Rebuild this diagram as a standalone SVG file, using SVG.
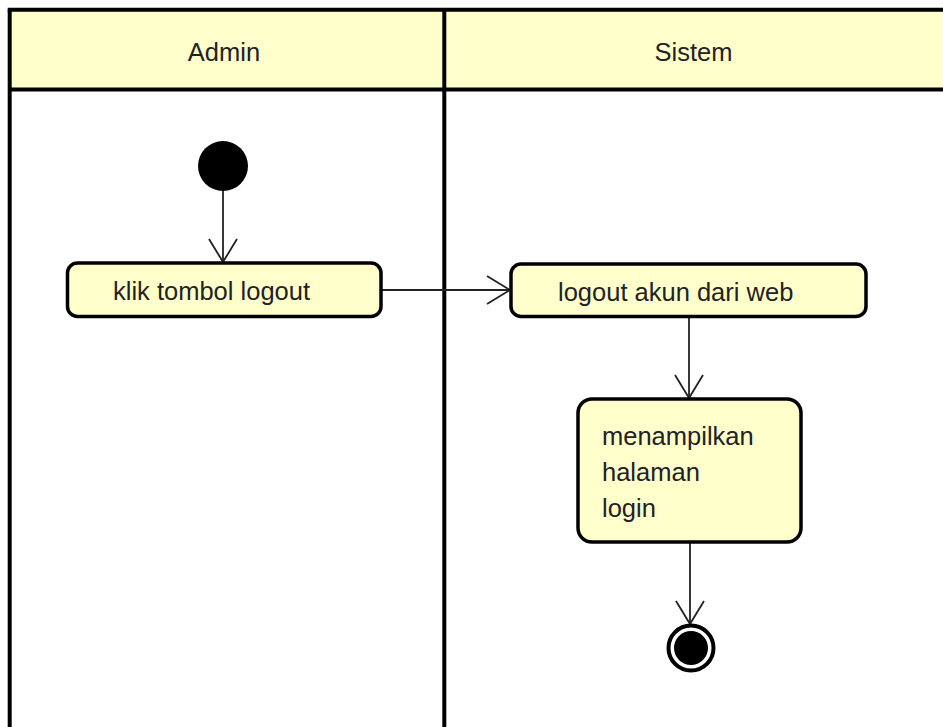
<svg xmlns="http://www.w3.org/2000/svg" width="943" height="727" viewBox="0 0 943 727">
<style>
.t{font-family:"Liberation Sans",Arial,sans-serif;font-size:25.5px;fill:#222}
.act{fill:#FFFFCC;stroke:#000;stroke-width:3.5}
.ln{fill:none;stroke:#222;stroke-width:1.8}
</style>
<defs>
<marker id="open" markerUnits="userSpaceOnUse" markerWidth="30" markerHeight="34" viewBox="-25 -17 30 34" refX="0" refY="0" orient="auto">
<path d="M-23,-14 L0,0 L-23,14" fill="none" stroke="#222" stroke-width="1.8"/>
</marker>
</defs>
<rect width="943" height="727" fill="#fff"/>
<g id="lanes">
<rect x="9.7" y="9.7" width="940" height="80" fill="#FFFFCC"/>
<line x1="7.7" y1="9.7" x2="943" y2="9.7" stroke="#000" stroke-width="4"/>
<line x1="9.7" y1="9.7" x2="9.7" y2="727" stroke="#000" stroke-width="4"/>
<line x1="9.7" y1="89.5" x2="943" y2="89.5" stroke="#000" stroke-width="4"/>
<line x1="444.3" y1="9.7" x2="444.3" y2="727" stroke="#000" stroke-width="4"/>
<text class="t" x="224" y="61" text-anchor="middle">Admin</text>
<text class="t" x="693.5" y="61" text-anchor="middle">Sistem</text>
</g>
<g id="connectors">
<line class="ln" x1="223" y1="190" x2="223" y2="262" marker-end="url(#open)"/>
<line class="ln" x1="382" y1="290" x2="510" y2="290" marker-end="url(#open)"/>
<line class="ln" x1="689" y1="317" x2="689" y2="398" marker-end="url(#open)"/>
<line class="ln" x1="690" y1="543" x2="690" y2="624" marker-end="url(#open)"/>
</g>
<g id="start">
<circle cx="223" cy="166" r="25" fill="#000"/>
</g>
<g id="klik">
<rect class="act" x="67.5" y="263" width="313.5" height="53.5" rx="10"/>
<text class="t" x="113" y="300">klik tombol logout</text>
</g>
<g id="logout">
<rect class="act" x="511" y="264" width="355" height="52.5" rx="10"/>
<text class="t" x="558" y="301">logout akun dari web</text>
</g>
<g id="tampil">
<rect class="act" x="578" y="399" width="223" height="143" rx="14"/>
<text class="t" x="602" y="445">menampilkan</text>
<text class="t" x="602" y="481">halaman</text>
<text class="t" x="602" y="517">login</text>
</g>
<g id="end">
<circle cx="691" cy="648" r="22.5" fill="#fff" stroke="#000" stroke-width="4"/>
<circle cx="691" cy="648" r="17" fill="#000"/>
</g>
</svg>
